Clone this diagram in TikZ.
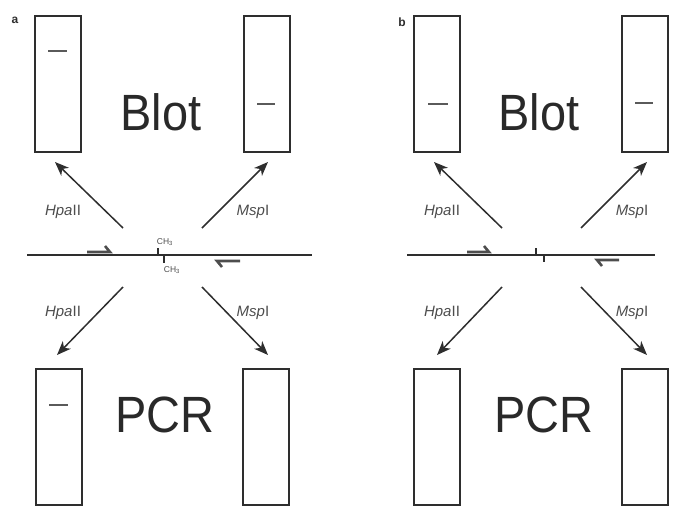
\documentclass[tikz,border=0pt]{standalone}
\usepackage{fontspec}
\setmainfont{Liberation Sans}
\usetikzlibrary{arrows.meta}
\definecolor{ink}{HTML}{2E2E2E}
\definecolor{bandc}{HTML}{5A5A5A}
\begin{document}
\begin{tikzpicture}[x=1pt,y=-1pt,
 lane/.style={draw=ink, line width=1.6pt, minimum width=46pt, minimum height=136pt, inner sep=0pt, anchor=north west},
 band/.style={draw=bandc, line width=2.6pt},
 dna/.style={draw=ink, line width=1.6pt},
 tick/.style={draw=ink, line width=1.4pt},
 primer/.style={draw=ink!85, line width=2.6pt},
 cut/.style={draw=ink, line width=1.5pt, -{Stealth[length=14pt,width=11pt,inset=4pt]}},
 big/.style={font=\fontsize{51}{51}\selectfont, xscale=0.92, inner sep=0pt, anchor=base, text=ink!90!black},
 enz/.style={font=\fontsize{15}{15}\selectfont, inner sep=0pt, text=ink!85},
 tag/.style={font=\bfseries\fontsize{12}{12}\selectfont, inner sep=0pt, text=ink},
 ch/.style={font=\fontsize{8.5}{8.5}\selectfont, inner sep=0pt, text=ink!85}]
\useasboundingbox (0,0) rectangle (675,506);

% ---------------- panel a ----------------
\node[tag] (a-lab) at (15,20) {a};
\node[lane] (a-tl) at (34,15) {};
\node[lane] (a-tr) at (243,15) {};
\node[lane] (a-bl) at (35,368) {};
\node[lane] (a-br) at (242,368) {};
\draw[band] (48,51) -- (67,51);
\draw[band] (257,104) -- (275,104);
\draw[band] (49,405) -- (68,405);
\node[big] (a-blot) at (161,130) {Blot};
\node[big] (a-pcr) at (165,432) {PCR};
% DNA
\coordinate (a-l) at (27,255);
\coordinate (a-r) at (312,255);
\draw[dna] (a-l) -- (a-r);
\draw[primer] (87,252) -- (110,252) -- (105,246);
\draw[primer] (240,261) -- (217,261) -- (222,267);
\draw[tick] (158,248) -- (158,255);
\draw[tick] (164,255) -- (164,263);
\node[ch] (a-m1) at (165,242) {CH\textsubscript{3}};
\node[ch] (a-m2) at (172,270) {CH\textsubscript{3}};
% arrows
\coordinate (a-s1) at (123,228); \coordinate (a-e1) at (55,162);
\coordinate (a-s2) at (202,228); \coordinate (a-e2) at (268,162);
\coordinate (a-s3) at (123,287); \coordinate (a-e3) at (57,355);
\coordinate (a-s4) at (202,287); \coordinate (a-e4) at (268,355);
\draw[cut] (a-s1) -- (a-e1);
\draw[cut] (a-s2) -- (a-e2);
\draw[cut] (a-s3) -- (a-e3);
\draw[cut] (a-s4) -- (a-e4);
\node[enz] (a-h1) at (63,212) {\itshape Hpa\upshape II};
\node[enz] (a-m1l) at (253,212) {\itshape Msp\upshape I};
\node[enz] (a-h2) at (63,313) {\itshape Hpa\upshape II};
\node[enz] (a-m2l) at (253,313) {\itshape Msp\upshape I};

% ---------------- panel b ----------------
\node[tag] (b-lab) at (402,22) {b};
\node[lane] (b-tl) at (413,15) {};
\node[lane] (b-tr) at (621,15) {};
\node[lane] (b-bl) at (413,368) {};
\node[lane] (b-br) at (621,368) {};
\draw[band] (428,104) -- (448,104);
\draw[band] (635,103) -- (653,103);
\node[big] (b-blot) at (539,130) {Blot};
\node[big] (b-pcr) at (544,432) {PCR};
\coordinate (b-l) at (407,255);
\coordinate (b-r) at (655,255);
\draw[dna] (b-l) -- (b-r);
\draw[primer] (467,252) -- (489,252) -- (484,246);
\draw[primer] (619,260) -- (597,260) -- (602,266);
\draw[tick] (536,248) -- (536,255);
\draw[tick] (544,255) -- (544,262);
\coordinate (b-s1) at (502,228); \coordinate (b-e1) at (434,162);
\coordinate (b-s2) at (581,228); \coordinate (b-e2) at (647,162);
\coordinate (b-s3) at (502,287); \coordinate (b-e3) at (437,355);
\coordinate (b-s4) at (581,287); \coordinate (b-e4) at (647,355);
\draw[cut] (b-s1) -- (b-e1);
\draw[cut] (b-s2) -- (b-e2);
\draw[cut] (b-s3) -- (b-e3);
\draw[cut] (b-s4) -- (b-e4);
\node[enz] (b-h1) at (442,212) {\itshape Hpa\upshape II};
\node[enz] (b-m1l) at (632,212) {\itshape Msp\upshape I};
\node[enz] (b-h2) at (442,313) {\itshape Hpa\upshape II};
\node[enz] (b-m2l) at (632,313) {\itshape Msp\upshape I};
\end{tikzpicture}
\end{document}
